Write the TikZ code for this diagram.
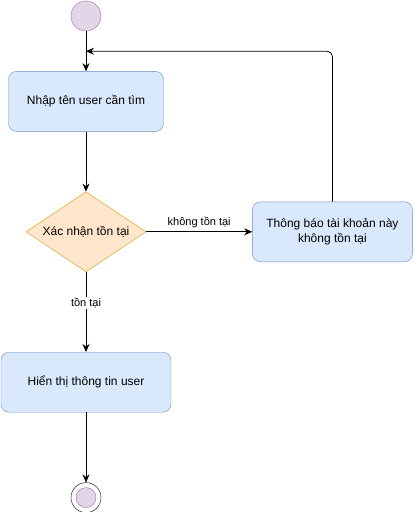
\documentclass[tikz,border=0pt]{standalone}
\usepackage{fontspec}
\setmainfont{Liberation Sans}
\usetikzlibrary{arrows.meta,positioning,shapes.geometric,calc}
\definecolor{startfill}{HTML}{E1D5E7}
\definecolor{startline}{HTML}{9673A6}
\definecolor{actfill}{HTML}{DAE8FC}
\definecolor{actline}{HTML}{6C8EBF}
\definecolor{decfill}{HTML}{FFE6CC}
\definecolor{decline}{HTML}{D79B00}
\tikzset{startdot/.style={circle,draw=startline,fill=startfill,minimum size=30pt,inner sep=0pt}}
\tikzset{endring/.style={circle,draw=black,fill=white,minimum size=30pt,inner sep=0pt}}
\tikzset{endcore/.style={circle,draw=startline,fill=startfill,minimum size=20pt,inner sep=0pt}}
\tikzset{action/.style={rectangle,rounded corners=8pt,draw=actline,fill=actfill,minimum height=60pt,align=center,font=\fontsize{12pt}{15pt}\selectfont}}
\tikzset{check/.style={diamond,shape aspect=1.5,draw=decline,fill=decfill,minimum width=120pt,minimum height=80pt,inner sep=0pt,font=\fontsize{12pt}{15pt}\selectfont}}
\tikzset{flow/.style={-{Stealth[length=8pt,width=7pt]},thick}}
\tikzset{guard/.style={font=\fontsize{11pt}{13pt}\selectfont}}

\begin{document}
\begin{tikzpicture}[x=1pt,y=-1pt]
\useasboundingbox (0,0) rectangle (414,512);
\begin{scope}[node distance=40pt]
	\node (start) [startdot] at (86,16) {};
	\node (input) [action, minimum width=155pt, below =of start] {Nhập tên user cần tìm};
	\node (verify) [check, below =60pt of input] {Xác nhận tồn tại};
	\node (notice) [action, minimum width=160pt, right =106pt of verify] {Thông báo tài khoản này\\không tồn tại};
	\node (show) [action, minimum width=170pt, below =80pt of verify] {Hiển thị thông tin user};
	\node (stop) [endring, below =70pt of show] {};
	\node (stopin) [endcore] at (stop) {};
	\coordinate (merge) at ($(start.south)!0.5!(input.north)$);
	% connectors
	\draw [flow] (start) -- (input);
	\draw [flow] (input) -- (verify);
	\draw [flow] (verify) -- node [guard, above] {không tồn tại} (notice);
	\draw [flow, rounded corners=6pt] (notice.north) |- (merge);
	\draw [flow] (verify) -- node [guard, fill=white, pos=0.39, inner sep=1pt] {tồn tại} (show);
	\draw [flow] (show) -- (stop);
\end{scope}
\end{tikzpicture}
\end{document}
